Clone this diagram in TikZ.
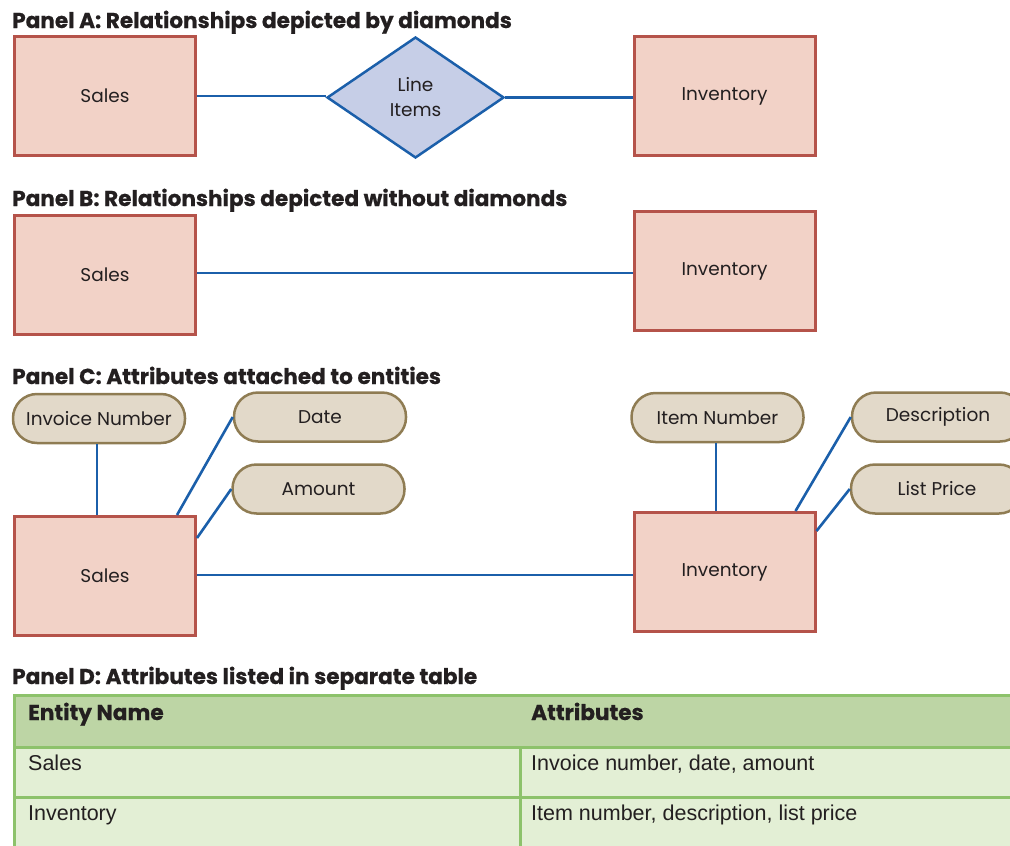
\documentclass[tikz,border=0pt]{standalone}
\usepackage{fontspec}
\setmainfont{Poppins}
\newfontfamily\titlefont[BoldFeatures={FakeBold=0.6}]{Poppins}
\newfontfamily\tablefont{Liberation Sans}
\usetikzlibrary{shapes.geometric}

\definecolor{ink}{HTML}{231F20}
\definecolor{entfill}{HTML}{F2D2C7}
\definecolor{entdraw}{HTML}{B5534A}
\definecolor{relfill}{HTML}{C6CEE7}
\definecolor{linkblue}{HTML}{1B5FAA}
\definecolor{attfill}{HTML}{E2D9C9}
\definecolor{attdraw}{HTML}{8F7C53}
\definecolor{tabline}{HTML}{8DC26B}
\definecolor{tabhead}{HTML}{BDD5A5}
\definecolor{tabrow}{HTML}{E3EFD5}

\tikzset{
    every node/.append style={text=ink},
    entity/.style={draw=entdraw, fill=entfill, line width=3pt, minimum width=181pt, minimum height=119pt, font=\fontsize{18.5}{25}\selectfont},
    relation/.style={diamond, draw=linkblue, fill=relfill, line width=2.5pt, minimum width=177pt, minimum height=121pt, inner sep=0pt, align=center, font=\fontsize{18.5}{25}\selectfont},
    attribute/.style={draw=attdraw, fill=attfill, line width=2.5pt, rounded corners=24pt, minimum width=172pt, minimum height=49pt, font=\fontsize{18.5}{24}\selectfont},
    link/.style={draw=linkblue, line width=2.6pt},
    paneltitle/.style={anchor=base west, inner sep=0pt, font=\titlefont\bfseries\fontsize{21.6}{24}\selectfont},
    cell/.style={draw=tabline, line width=3pt, anchor=north west, inner sep=0pt},
    celltext/.style={anchor=base west, inner sep=0pt, font=\tablefont\fontsize{21.5}{24}\selectfont},
    headtext/.style={anchor=base west, inner sep=0pt, font=\titlefont\bfseries\fontsize{21.6}{24}\selectfont}
}

\begin{document}
\begin{tikzpicture}[x=1pt, y=-1pt]
    \useasboundingbox (0,0) rectangle (1010,846);
    \clip (0,0) rectangle (1010,846);

    % panel A
    \node[paneltitle] (titleA) at (12,28) {Panel A: Relationships depicted by diamonds};
    \node[entity] (salesA) at (105,96) {Sales};
    \node[entity] (invA) at (724.5,96) {Inventory};
    \node[relation] (lines) at (415.5,97.5) {Line\\Items};
    \draw[link] (salesA.east) -- (salesA.east -| lines.west);
    \draw[link] (lines.east) -- (lines.east -| invA.west);

    % panel B
    \node[paneltitle] (titleB) at (12,206) {Panel B: Relationships depicted without diamonds};
    \node[entity] (salesB) at (105,274.5) {Sales};
    \node[entity] (invB) at (724.5,271) {Inventory};
    \draw[link] ([yshift=1.5pt]salesB.east) -- ([yshift=1.5pt]salesB.east -| invB.west);

    % panel C
    \node[paneltitle] (titleC) at (12,384) {Panel C: Attributes attached to entities};
    \node[entity] (salesC) at (105,576) {Sales};
    \node[entity] (invC) at (724.5,572) {Inventory};
    \node[attribute] (invoice) at (99,418.5) {Invoice Number};
    \node[attribute] (date) at (320,417) {Date};
    \node[attribute] (amount) at (318.5,489) {Amount};
    \node[attribute] (item) at (717.5,417.5) {Item Number};
    \node[attribute] (descr) at (938,417) {Description};
    \node[attribute] (price) at (937,489) {List Price};
    \draw[link] ([xshift=-2pt]invoice.south) -- ([xshift=-2pt]invoice.south |- salesC.north);
    \draw[link] (date.west) -- ([xshift=-20pt]salesC.north east);
    \draw[link] (amount.west) -- ([yshift=-23pt]salesC.north east);
    \draw[link] ([xshift=-1.5pt]item.south) -- ([xshift=-1.5pt]item.south |- invC.north);
    \draw[link] (descr.west) -- ([xshift=-21pt]invC.north east);
    \draw[link] (price.west) -- ([yshift=-20pt]invC.north east);
    \draw[link] ([yshift=1pt]salesC.east) -- ([yshift=1pt]salesC.east -| invC.west);

    % panel D
    \node[paneltitle] (titleD) at (12,684) {Panel D: Attributes listed in separate table};
    \node[cell, fill=tabhead, minimum width=1030pt, minimum height=52pt] (head) at (13,694) {};
    \node[headtext] (hname) at ([xshift=15pt,yshift=-26pt]head.north west) {Entity Name};
    \node[headtext] (hattr) at ([xshift=518pt,yshift=-26pt]head.north west) {Attributes};
    \foreach \ent/\att [count=\i] in {Sales/{Invoice number, date, amount}, Inventory/{Item number, description, list price}}
    {
        \node[cell, fill=tabrow, minimum width=506pt, minimum height=50pt] (ename\i) at (13,696+50*\i) {};
        \node[cell, fill=tabrow, minimum width=530pt, minimum height=50pt] (eattr\i) at (519,696+50*\i) {};
        \node[celltext] at ([xshift=15pt,yshift=-24pt]ename\i.north west) {\ent};
        \node[celltext] at ([xshift=12pt,yshift=-24pt]eattr\i.north west) {\att};
    }
\end{tikzpicture}
\end{document}
